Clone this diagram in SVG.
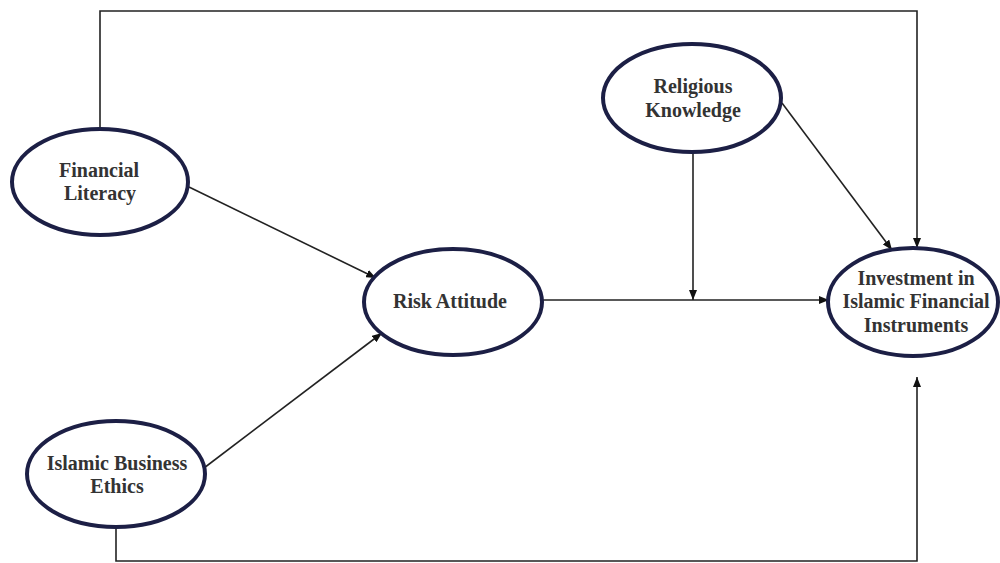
<svg xmlns="http://www.w3.org/2000/svg" width="1000" height="563" viewBox="0 0 1000 563">
  <style>
    .node ellipse { fill: #ffffff; stroke: #1c1f45; stroke-width: 4; }
    .node text { font-family: "Liberation Serif", "Times New Roman", serif; font-weight: bold; font-size: 20px; fill: #333333; text-anchor: middle; }
    .conn { fill: none; stroke: #222222; stroke-width: 1.6; }
  </style>
  <defs>
    <marker id="arrow" markerUnits="userSpaceOnUse" markerWidth="10" markerHeight="8" refX="10" refY="4" orient="auto">
      <path d="M0,0 L10,4 L0,8 z" fill="#111111"/>
    </marker>
  </defs>
  <rect width="1000" height="563" fill="#ffffff"/>
  <g id="connectors">
    <path class="conn" d="M100,128 V11 H917 V248" marker-end="url(#arrow)"/>
    <line class="conn" x1="189" y1="187" x2="376" y2="278" marker-end="url(#arrow)"/>
    <line class="conn" x1="204" y1="468" x2="382" y2="333" marker-end="url(#arrow)"/>
    <line class="conn" x1="542" y1="300" x2="829" y2="300" marker-end="url(#arrow)"/>
    <line class="conn" x1="693" y1="152" x2="693" y2="300" marker-end="url(#arrow)"/>
    <line class="conn" x1="782" y1="103" x2="892" y2="250" marker-end="url(#arrow)"/>
    <path class="conn" d="M116,528 V561 H917 V377" marker-end="url(#arrow)"/>
  </g>
  <g id="financial-literacy" class="node">
    <ellipse cx="100" cy="182" rx="88" ry="53"/>
    <text x="99" y="177">Financial</text>
    <text x="100" y="200">Literacy</text>
  </g>
  <g id="religious-knowledge" class="node">
    <ellipse cx="692" cy="98" rx="89" ry="54"/>
    <text x="693" y="93">Religious</text>
    <text x="693" y="117">Knowledge</text>
  </g>
  <g id="risk-attitude" class="node">
    <ellipse cx="453" cy="302" rx="89" ry="53"/>
    <text x="450" y="308">Risk Attitude</text>
  </g>
  <g id="investment" class="node">
    <ellipse cx="913" cy="302" rx="85" ry="54"/>
    <text x="916" y="285">Investment in</text>
    <text x="916" y="308">Islamic Financial</text>
    <text x="916" y="332">Instruments</text>
  </g>
  <g id="islamic-business-ethics" class="node">
    <ellipse cx="116" cy="474" rx="89" ry="53"/>
    <text x="117" y="470">Islamic Business</text>
    <text x="117" y="493">Ethics</text>
  </g>
</svg>
